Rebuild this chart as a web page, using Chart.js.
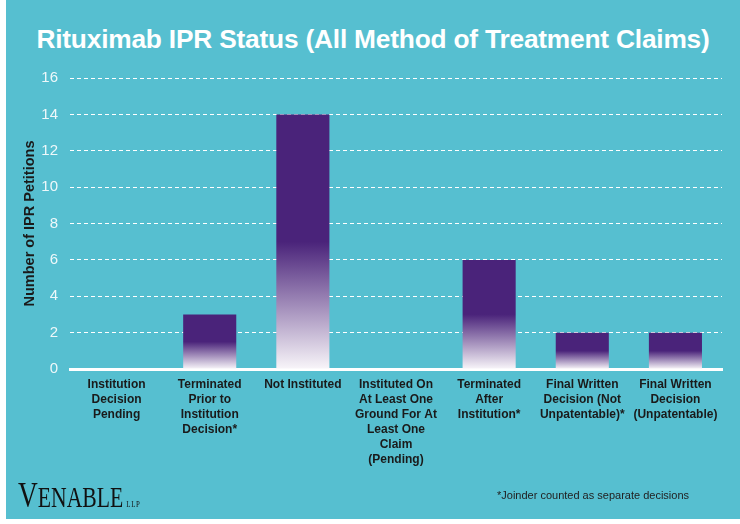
<!DOCTYPE html>
<html>
<head>
<meta charset="utf-8">
<script src="https://cdn.jsdelivr.net/npm/chart.js@4/dist/chart.umd.min.js"></script>
<style>
  html,body{margin:0;padding:0;background:#ffffff;}
  #wrap{position:relative;width:740px;height:524px;overflow:hidden;}
  #bg{position:absolute;left:6px;top:0;width:734px;height:519px;background:#56BFD0;}
  #title{position:absolute;left:6px;top:24px;width:734px;text-align:center;color:#fff;
    font-family:"Liberation Sans",Arial,sans-serif;font-weight:bold;font-size:26.3px;letter-spacing:-0.2px;}
  canvas{position:absolute;left:0;top:0;}
  #logo{position:absolute;left:18px;top:474px;font-family:"Liberation Serif","Times New Roman",serif;color:#111;
    transform-origin:left top;transform:scaleX(0.76);white-space:nowrap;}
  #logo .v{font-size:36px;}
  #logo .e{font-size:28.5px;}
  #logo .l{font-size:9px;margin-left:4px;letter-spacing:1px;}
  #note{position:absolute;left:497px;top:489px;font-family:"Liberation Sans",Arial,sans-serif;font-size:11px;color:#222;}
</style>
</head>
<body>
<div id="wrap">
  <div id="bg"></div>
  <div id="title">Rituximab IPR Status (All Method of Treatment Claims)</div>
  <canvas id="c" width="740" height="524"></canvas>
  <div id="logo"><span class="v">V</span><span class="e">ENABLE</span><span class="l">LLP</span></div>
  <div id="note">*Joinder counted as separate decisions</div>
</div>
<script>
const categories = [
  ["Institution", "Decision", "Pending"],
  ["Terminated", "Prior to", "Institution", "Decision*"],
  ["Not Instituted"],
  ["Instituted On", "At Least One", "Ground For At", "Least One", "Claim", "(Pending)"],
  ["Terminated", "After", "Institution*"],
  ["Final Written", "Decision (Not", "Unpatentable)*"],
  ["Final Written", "Decision", "(Unpatentable)"]
];
const petitions = [0, 3, 14, 0, 6, 2, 2];
const yTicks = [0, 2, 4, 6, 8, 10, 12, 14, 16];

const PURPLE = '#4A237A';
function barGradient(ctx) {
  const chart = ctx.chart;
  const y = chart.scales && chart.scales.y;
  if (!y || ctx.raw === undefined) return PURPLE;
  const top = y.getPixelForValue(ctx.raw);
  const base = y.getPixelForValue(0);
  if (!isFinite(top) || !isFinite(base) || base === top) return PURPLE;
  const g = chart.ctx.createLinearGradient(0, base, 0, top);
  g.addColorStop(0, '#f8f5f9');
  g.addColorStop(0.5, PURPLE);
  g.addColorStop(1, PURPLE);
  return g;
}

new Chart(document.getElementById('c'), {
  type: 'bar',
  data: {
    labels: categories,
    datasets: [{
      data: petitions,
      backgroundColor: barGradient,
      borderWidth: 0,
      barPercentage: 0.57,
      categoryPercentage: 1.0
    }]
  },
  options: {
    responsive: false,
    animation: false,
    layout: { padding: { top: 78, right: 18, left: 0, bottom: 0 } },
    plugins: { legend: { display: false }, tooltip: { enabled: false }, title: { display: false } },
    scales: {
      x: {
        grid: { display: false, drawTicks: false },
        border: { display: true, color: '#ffffff', width: 3 },
        ticks: {
          color: '#1a1a1a', autoSkip: false, maxRotation: 0, minRotation: 0, padding: 8,
          font: { family: '"Liberation Sans", Arial, sans-serif', size: 12, weight: 'bold', lineHeight: 1.25 }
        },
        afterFit: s => { s.height = 155; }
      },
      y: {
        min: 0, max: 16,
        afterBuildTicks: s => { s.ticks = yTicks.map(v => ({ value: v })); },
        grid: { color: '#ffffff', lineWidth: 1, drawTicks: false },
        border: { display: false, dash: [4, 3] },
        ticks: {
          color: '#eef8fa', padding: 12,
          font: { family: '"Liberation Sans", Arial, sans-serif', size: 15 }
        },
        title: {
          display: true, text: 'Number of IPR Petitions', color: '#1a1a1a',
          font: { family: '"Liberation Sans", Arial, sans-serif', size: 14.5, weight: 'bold' },
          padding: { top: 21, bottom: 0 }
        },
        afterFit: s => { s.width = 70; }
      }
    }
  }
});
</script>
</body>
</html>
